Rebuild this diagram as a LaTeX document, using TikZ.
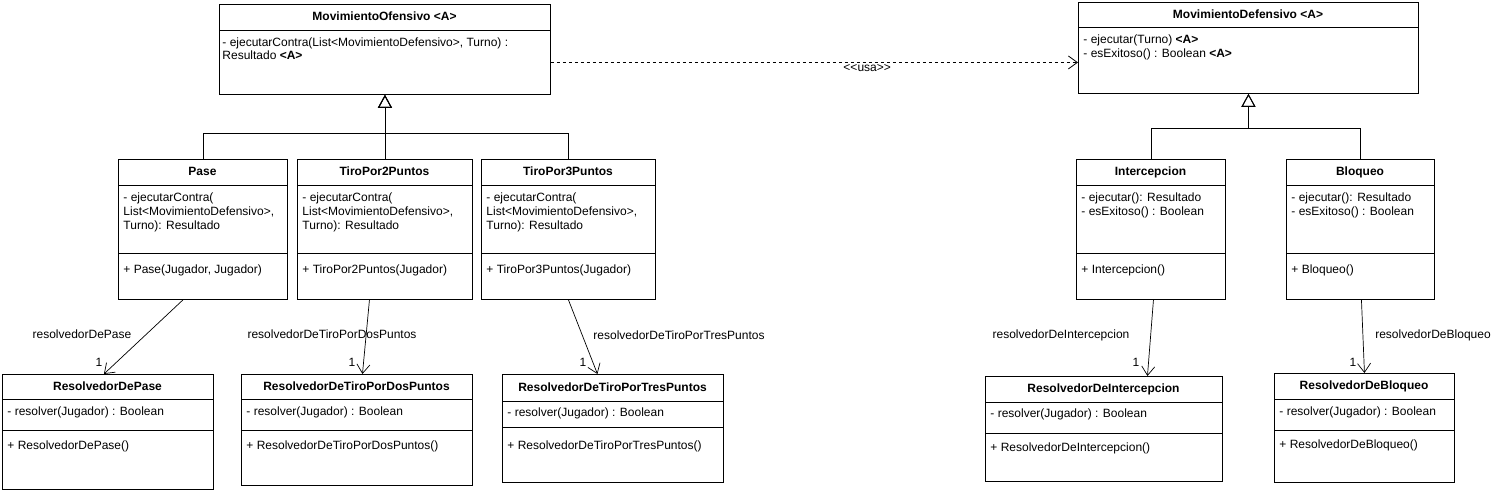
\documentclass[tikz,border=0pt]{standalone}
\usepackage{fontspec}
\setmainfont{Liberation Sans}
\usetikzlibrary{arrows.meta}

\begin{document}
\begin{tikzpicture}[x=1pt, y=-1pt, line width=0.9pt,
  every node/.style={font=\fontsize{12}{14}\selectfont, inner sep=0pt},
  classbox/.style={draw, fill=white, anchor=north west},
  classname/.style={font=\fontsize{12}{14}\selectfont\bfseries, text height=9pt, text depth=2.5pt},
  member/.style={anchor=west, text height=9pt, text depth=2.5pt},
  inherit/.style={-{Triangle[open, length=13pt, width=14pt]}},
  assoc/.style={line width=0.7pt, -{Straight Barb[length=9pt, width=13pt]}},
  usa/.style={line width=0.8pt, dash pattern=on 3pt off 3pt, -{Straight Barb[length=9pt, width=13pt]}}]

\useasboundingbox (0,0) rectangle (1507,492);

% MovimientoOfensivo
  \node[classbox, minimum width=331pt, minimum height=90pt] (ofensivo) at (219,4) {};
  \draw (219,30) -- (550,30);
  \node[classname] (ofensivoname) at (384.5,17) {MovimientoOfensivo <A>};
  \node[member] (ofensivo1) at (222,43) {- ejecutarContra(List<MovimientoDefensivo>, Turno) :};
  \node[member] (ofensivo2) at (222,56) {Resultado \textbf{<A>}};

% MovimientoDefensivo
  \node[classbox, minimum width=340pt, minimum height=91pt] (defensivo) at (1078,2) {};
  \draw (1078,27) -- (1418,27);
  \node[classname] (defensivoname) at (1248,15) {MovimientoDefensivo <A>};
  \node[member] (defensivo1) at (1083,40) {- ejecutar(Turno) \textbf{<A>}};
  \node[member] (defensivo2) at (1083,54) {- esExitoso() : Boolean \textbf{<A>}};

% Pase
  \node[classbox, minimum width=169pt, minimum height=140pt] (pase) at (118,159) {};
  \draw (118,185) -- (287,185);
  \draw (118,253) -- (287,253);
  \node[classname] (pasename) at (202.5,172) {Pase};
  \node[member] (pase1) at (123,198) {- ejecutarContra(};
  \node[member] (pase2) at (123,212) {List<MovimientoDefensivo>,};
  \node[member] (pase3) at (123,226) {Turno): Resultado};
  \node[member] (pase4) at (123,270) {+ Pase(Jugador, Jugador)};

% TiroPor2Puntos
  \node[classbox, minimum width=175pt, minimum height=140pt] (tiro2) at (297,159) {};
  \draw (297,185) -- (472,185);
  \draw (297,253) -- (472,253);
  \node[classname] (tiro2name) at (384.5,172) {TiroPor2Puntos};
  \node[member] (tiro21) at (302,198) {- ejecutarContra(};
  \node[member] (tiro22) at (302,212) {List<MovimientoDefensivo>,};
  \node[member] (tiro23) at (302,226) {Turno): Resultado};
  \node[member] (tiro24) at (302,270) {+ TiroPor2Puntos(Jugador)};

% TiroPor3Puntos
  \node[classbox, minimum width=174pt, minimum height=140pt] (tiro3) at (481,159) {};
  \draw (481,185) -- (655,185);
  \draw (481,253) -- (655,253);
  \node[classname] (tiro3name) at (568,172) {TiroPor3Puntos};
  \node[member] (tiro31) at (486,198) {- ejecutarContra(};
  \node[member] (tiro32) at (486,212) {List<MovimientoDefensivo>,};
  \node[member] (tiro33) at (486,226) {Turno): Resultado};
  \node[member] (tiro34) at (486,270) {+ TiroPor3Puntos(Jugador)};

% Intercepcion
  \node[classbox, minimum width=149pt, minimum height=140pt] (inter) at (1076,159) {};
  \draw (1076,185) -- (1225,185);
  \draw (1076,253) -- (1225,253);
  \node[classname] (intername) at (1150.5,172) {Intercepcion};
  \node[member] (inter1) at (1081,198) {- ejecutar(): Resultado};
  \node[member] (inter2) at (1081,212) {- esExitoso() : Boolean};
  \node[member] (inter3) at (1081,270) {+ Intercepcion()};

% Bloqueo
  \node[classbox, minimum width=148pt, minimum height=140pt] (bloq) at (1286,159) {};
  \draw (1286,185) -- (1434,185);
  \draw (1286,253) -- (1434,253);
  \node[classname] (bloqname) at (1360,172) {Bloqueo};
  \node[member] (bloq1) at (1291,198) {- ejecutar(): Resultado};
  \node[member] (bloq2) at (1291,212) {- esExitoso() : Boolean};
  \node[member] (bloq3) at (1291,270) {+ Bloqueo()};

% ResolvedorDePase
  \node[classbox, minimum width=211pt, minimum height=115pt] (rpase) at (2,374) {};
  \draw (2,399) -- (213,399);
  \draw (2,430) -- (213,430);
  \node[classname] (rpasename) at (107.5,387) {ResolvedorDePase};
  \node[member] (rpase1) at (7,412) {- resolver(Jugador) : Boolean};
  \node[member] (rpase2) at (7,446) {+ ResolvedorDePase()};

% ResolvedorDeTiroPorDosPuntos
  \node[classbox, minimum width=231pt, minimum height=111pt] (rdos) at (241,374) {};
  \draw (241,399) -- (472,399);
  \draw (241,430) -- (472,430);
  \node[classname] (rdosname) at (356.5,387) {ResolvedorDeTiroPorDosPuntos};
  \node[member] (rdos1) at (246,412) {- resolver(Jugador) : Boolean};
  \node[member] (rdos2) at (246,446) {+ ResolvedorDeTiroPorDosPuntos()};

% ResolvedorDeTiroPorTresPuntos
  \node[classbox, minimum width=221pt, minimum height=108pt] (rtres) at (502,374) {};
  \draw (502,401) -- (723,401);
  \draw (502,427) -- (723,427);
  \node[classname] (rtresname) at (612.5,388) {ResolvedorDeTiroPorTresPuntos};
  \node[member] (rtres1) at (507,413) {- resolver(Jugador) : Boolean};
  \node[member] (rtres2) at (507,446) {+ ResolvedorDeTiroPorTresPuntos()};

% ResolvedorDeIntercepcion
  \node[classbox, minimum width=237pt, minimum height=105pt] (rinter) at (985,376) {};
  \draw (985,402) -- (1222,402);
  \draw (985,433) -- (1222,433);
  \node[classname] (rintername) at (1103.5,389) {ResolvedorDeIntercepcion};
  \node[member] (rinter1) at (990,414) {- resolver(Jugador) : Boolean};
  \node[member] (rinter2) at (990,448) {+ ResolvedorDeIntercepcion()};

% ResolvedorDeBloqueo
  \node[classbox, minimum width=180pt, minimum height=109pt] (rbloq) at (1274,373) {};
  \draw (1274,399) -- (1454,399);
  \draw (1274,430) -- (1454,430);
  \node[classname] (rbloqname) at (1364,386) {ResolvedorDeBloqueo};
  \node[member] (rbloq1) at (1279,412) {- resolver(Jugador) : Boolean};
  \node[member] (rbloq2) at (1279,445) {+ ResolvedorDeBloqueo()};

% herencia
\draw[inherit] (pase.north) -- ++(0,-26) -| (ofensivo.south);
\draw[inherit] (tiro2.north) -- (ofensivo.south);
\draw[inherit] (tiro3.north) -- ++(0,-26) -| (ofensivo.south);
\draw[inherit] (inter.north) -- ++(0,-31) -| (defensivo.south);
\draw[inherit] (bloq.north) -- ++(0,-31) -| (defensivo.south);

% usa
\draw[usa] ([yshift=-13pt]ofensivo.east) -- ([yshift=-13pt]ofensivo.east -| defensivo.west) node[pos=0.6, below=2pt] (usalabel) {<\kern0pt<usa>\kern0pt>};

% resolvedores
\draw[assoc] ([xshift=-20pt]pase.south) -- ([xshift=-4pt]rpase.north);
\draw[assoc] ([xshift=-15.5pt]tiro2.south) -- ([xshift=5.5pt]rdos.north);
\draw[assoc] (tiro3.south) -- ([xshift=-15.5pt]rtres.north);
\draw[assoc] ([xshift=2.5pt]inter.south) -- ([xshift=43.5pt]rinter.north);
\draw[assoc] ([xshift=1pt]bloq.south) -- (rbloq.north);

\node (lpase) at (82,334) {resolvedorDePase};
\node (ldos) at (332,334) {resolvedorDeTiroPorDosPuntos};
\node (ltres) at (679,335) {resolvedorDeTiroPorTresPuntos};
\node (linter) at (1061,335) {resolvedorDeIntercepcion};
\node (lbloq) at (1433,335) {resolvedorDeBloqueo};

\node (mpase) at (99,362) {1};
\node (mdos) at (352,362) {1};
\node (mtres) at (583,362) {1};
\node (minter) at (1136,362) {1};
\node (mbloq) at (1353,362) {1};

\end{tikzpicture}
\end{document}
